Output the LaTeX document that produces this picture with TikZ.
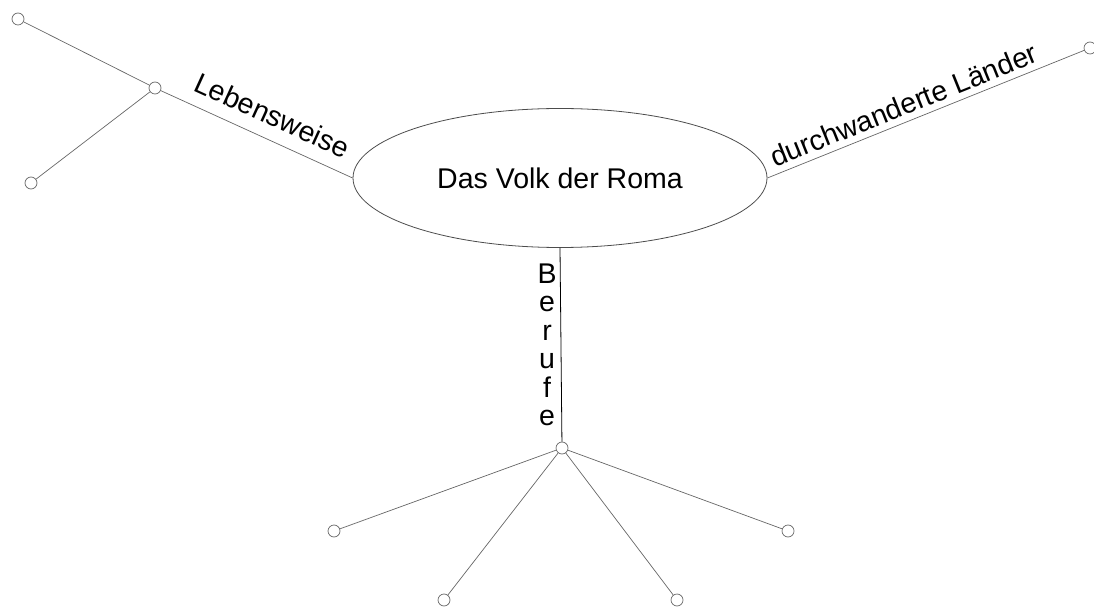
\documentclass[tikz,border=0pt]{standalone}
\usepackage{fontspec}
\setmainfont{Liberation Sans}
\usetikzlibrary{shapes.geometric}
\begin{document}
\begin{tikzpicture}[x=1pt,y=-1pt,
    knot/.style={circle,draw=black!60,line width=0.7pt,minimum size=12pt,inner sep=0pt},
    twig/.style={draw=black!60,line width=0.7pt},
    lbl/.style={font=\fontsize{28.5}{28.5}\selectfont}]
  \useasboundingbox (0,0) rectangle (1094,609);
  % centre
  \node[ellipse,draw=black!70,line width=0.8pt,minimum width=414pt,minimum height=139pt,inner sep=0pt,lbl]
    (roma) at (560,178) {Das Volk der Roma};
  % knots
  \node[knot] (leb)   at (155,88)  {};
  \node[knot] (lebA)  at (18,19)   {};
  \node[knot] (lebB)  at (31,183)  {};
  \node[knot] (land)  at (1090,48) {};
  \node[knot] (beruf) at (562,448) {};
  \node[knot] (berA)  at (334,531) {};
  \node[knot] (berB)  at (444,600) {};
  \node[knot] (berC)  at (677,600) {};
  \node[knot] (berD)  at (788,531) {};
  % branches
  \draw[twig] (roma.west) -- node[sloped,above,pos=0.47,inner sep=13pt,lbl]{Lebensweise} (leb);
  \draw[twig] (leb) -- (lebA);
  \draw[twig] (leb) -- (lebB);
  \draw[twig] (roma.east) -- node[sloped,above,pos=0.45,inner sep=6pt,lbl]{durchwanderte Länder} (land);
  \draw[line width=0.8pt] (roma.south) -- node[left,inner sep=4pt,align=center,lbl]{B\\e\\r\\u\\f\\e} (beruf);
  % foot
  \foreach \k in {berA,berB,berC,berD}
    \draw[twig] (beruf) -- (\k);
\end{tikzpicture}
\end{document}
